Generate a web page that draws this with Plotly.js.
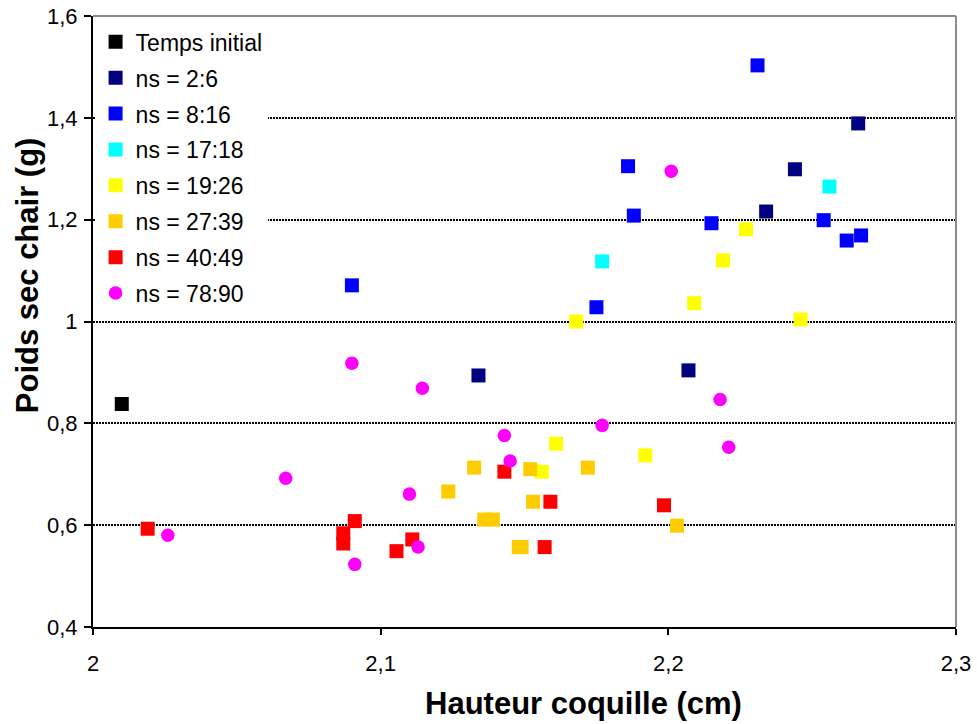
<!DOCTYPE html>
<html>
<head>
<meta charset="utf-8">
<script src="https://cdn.plot.ly/plotly-3.0.1.min.js"></script>
<style>html,body{margin:0;padding:0;background:#fff;}#chart{width:977px;height:724px;}</style>
</head>
<body>
<div id="chart"></div>
<script>
// Series data (Hauteur coquille in cm, Poids sec chair in g)
const seriesNames = ["Temps initial", "ns = 2:6", "ns = 8:16", "ns = 17:18", "ns = 19:26", "ns = 27:39", "ns = 40:49", "ns = 78:90"];

const tempsInitialX = [2.010];
const tempsInitialY = [0.838];

const ns2_6X = [2.134, 2.207, 2.234, 2.244, 2.266];
const ns2_6Y = [0.894, 0.904, 1.216, 1.299, 1.389];

const ns8_16X = [2.090, 2.175, 2.186, 2.188, 2.215, 2.231, 2.254, 2.262, 2.267];
const ns8_16Y = [1.071, 1.028, 1.305, 1.208, 1.193, 1.503, 1.199, 1.159, 1.169];

const ns17_18X = [2.177, 2.256];
const ns17_18Y = [1.118, 1.265];

const ns19_26X = [2.156, 2.161, 2.168, 2.192, 2.209, 2.219, 2.227, 2.246];
const ns19_26Y = [0.705, 0.760, 1.000, 0.737, 1.036, 1.120, 1.181, 1.004];

const ns27_39X = [2.1235, 2.1325, 2.136, 2.139, 2.148, 2.149, 2.152, 2.153, 2.172, 2.203];
const ns27_39Y = [0.666, 0.713, 0.611, 0.611, 0.557, 0.557, 0.710, 0.646, 0.713, 0.599];

const ns40_49X = [2.019, 2.087, 2.087, 2.091, 2.1055, 2.111, 2.143, 2.159, 2.157, 2.1985];
const ns40_49Y = [0.593, 0.584, 0.564, 0.608, 0.549, 0.572, 0.705, 0.646, 0.557, 0.639];

const ns78_90X = [2.026, 2.067, 2.090, 2.091, 2.110, 2.113, 2.1145, 2.143, 2.145, 2.177, 2.201, 2.218, 2.221];
const ns78_90Y = [0.580, 0.692, 0.918, 0.523, 0.661, 0.557, 0.869, 0.776, 0.726, 0.796, 1.295, 0.847, 0.753];

const seriesX = [tempsInitialX, ns2_6X, ns8_16X, ns17_18X, ns19_26X, ns27_39X, ns40_49X, ns78_90X];
const seriesY = [tempsInitialY, ns2_6Y, ns8_16Y, ns17_18Y, ns19_26Y, ns27_39Y, ns40_49Y, ns78_90Y];
const seriesColors = ["#000000", "#000080", "#0000FF", "#00FFFF", "#FFFF00", "#FFCC00", "#FF0000", "#FF00FF"];
const seriesSymbols = ["square", "square", "square", "square", "square", "square", "square", "circle"];

const xTitle = "Hauteur coquille (cm)";
const yTitle = "Poids sec chair (g)";

const FONT = "Liberation Sans, Arial, sans-serif";

const traces = seriesNames.map((name, i) => ({
  type: "scatter",
  mode: "markers",
  name: name,
  legendgroup: "g" + i,
  x: seriesX[i],
  y: seriesY[i],
  marker: {
    symbol: seriesSymbols[i],
    color: seriesColors[i],
    size: seriesSymbols[i] === "circle" ? 13.5 : 14,
    line: {width: 0}
  },
  hoverinfo: "x+y+name"
}));

const layout = {
  width: 977,
  height: 724,
  margin: {l: 93, r: 21, t: 16, b: 97, pad: 0},
  paper_bgcolor: "#ffffff",
  plot_bgcolor: "#ffffff",
  separators: ", ",
  font: {family: FONT, color: "#000000"},
  showlegend: true,
  legend: {
    x: 0.003, y: 0.993, xanchor: "left", yanchor: "top",
    bgcolor: "#ffffff", borderwidth: 0,
    font: {family: FONT, size: 23, color: "#000000"},
    tracegroupgap: 3,
    itemclick: false
  },
  xaxis: {
    range: [2, 2.3],
    tick0: 2, dtick: 0.1,
    showgrid: false, zeroline: false,
    showline: true, linecolor: "#000000", linewidth: 2,
    ticks: "outside", ticklen: 6, tickcolor: "#000000", tickwidth: 1.5,
    ticklabelstandoff: 10,
    tickfont: {family: FONT, size: 22, color: "#000000"}
  },
  yaxis: {
    range: [0.4, 1.6],
    tick0: 0.4, dtick: 0.2,
    showgrid: true, gridcolor: "#000000", gridwidth: 1.5, griddash: "1.5px,1.5px",
    zeroline: false,
    showline: true, linecolor: "#000000", linewidth: 2,
    ticks: "outside", ticklen: 7, tickcolor: "#000000", tickwidth: 1.5,
    ticklabelstandoff: 2,
    tickfont: {family: FONT, size: 22, color: "#000000"}
  },
  shapes: [
    {type: "line", xref: "paper", yref: "paper", x0: 0, x1: 1, y0: 1, y1: 1, line: {color: "#8c8c8c", width: 2}},
    {type: "line", xref: "paper", yref: "paper", x0: 1, x1: 1, y0: 0, y1: 1, line: {color: "#8c8c8c", width: 2}}
  ],
  annotations: [
    {text: "<b>" + xTitle + "</b>", xref: "paper", yref: "paper", x: 0.5685, y: -0.126,
     xanchor: "center", yanchor: "middle", showarrow: false,
     font: {family: FONT, size: 31, color: "#000000"}},
    {text: "<b>" + yTitle + "</b>", xref: "paper", yref: "paper", x: -0.0763, y: 0.576,
     xanchor: "center", yanchor: "middle", textangle: -90, showarrow: false,
     font: {family: FONT, size: 31, color: "#000000"}}
  ]
};

Plotly.newPlot("chart", traces, layout, {displayModeBar: false, staticPlot: false});
</script>
</body>
</html>
